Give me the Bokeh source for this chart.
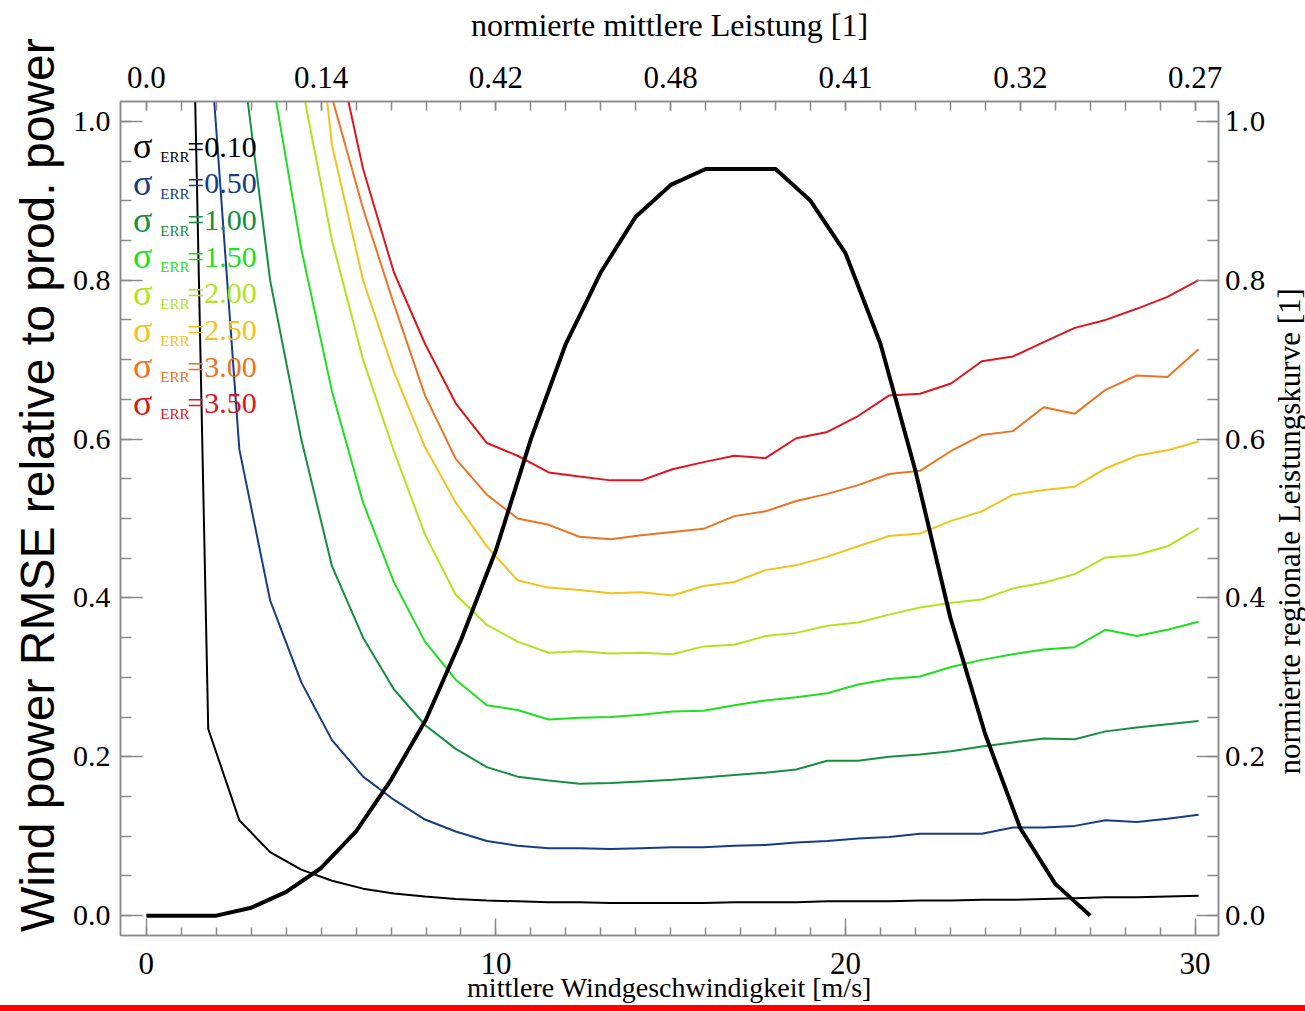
import math
from bokeh.plotting import figure
from bokeh.models import (Range1d, LinearAxis, FixedTicker, Div,
                          ColumnDataSource, PrintfTickFormatter)
from bokeh.layouts import column, row
from bokeh.embed import file_html
from bokeh.resources import INLINE
from bokeh.core.properties import value

NaN = float("nan")

# ---------------- data ----------------
# wind speed grid of the RMSE curves [m/s]
wind_err = [0.00, 0.89, 1.77, 2.66, 3.54, 4.43, 5.31, 6.20, 7.08, 7.97, 8.85,
            9.74, 10.62, 11.51, 12.39, 13.28, 14.16, 15.05, 15.94, 16.82, 17.71,
            18.59, 19.48, 20.36, 21.25, 22.13, 23.02, 23.90, 24.79, 25.67, 26.56,
            27.44, 28.33, 29.21, 30.10]

sigma_labels = ["0.10", "0.50", "1.00", "1.50", "2.00", "2.50", "3.00", "3.50"]
sigma_colors = ["#000000", "#173d86", "#16903e", "#1fe01f", "#b2e41e",
                "#f2c31c", "#ec7424", "#e0161e"]

rmse_010 = [NaN, 2.10, 0.235, 0.120, 0.080, 0.058, 0.044, 0.034, 0.028, 0.024, 0.021,
            0.019, 0.018, 0.017, 0.017, 0.016, 0.016, 0.016, 0.016, 0.017, 0.017,
            0.017, 0.018, 0.018, 0.018, 0.019, 0.019, 0.020, 0.020, 0.021, 0.022,
            0.023, 0.023, 0.024, 0.025]
rmse_050 = [NaN, NaN, 1.13, 0.587, 0.397, 0.294, 0.221, 0.175, 0.146, 0.121, 0.106,
            0.094, 0.088, 0.085, 0.085, 0.084, 0.085, 0.086, 0.086, 0.088, 0.089,
            0.092, 0.094, 0.097, 0.099, 0.103, 0.103, 0.103, 0.111, 0.111, 0.113,
            0.120, 0.118, 0.122, 0.127]
rmse_100 = [NaN, NaN, NaN, 1.11, 0.80, 0.60, 0.44, 0.35, 0.285, 0.24, 0.21,
            0.187, 0.175, 0.170, 0.166, 0.167, 0.169, 0.171, 0.174, 0.177, 0.180,
            0.184, 0.195, 0.195, 0.200, 0.203, 0.207, 0.213, 0.218, 0.223, 0.222,
            0.232, 0.237, 0.241, 0.245]
rmse_150 = [NaN, NaN, NaN, NaN, 1.07, 0.84, 0.66, 0.52, 0.42, 0.345, 0.297,
            0.265, 0.259, 0.247, 0.249, 0.250, 0.253, 0.257, 0.258, 0.265, 0.271,
            0.275, 0.280, 0.291, 0.298, 0.301, 0.313, 0.322, 0.329, 0.335, 0.338,
            0.360, 0.352, 0.360, 0.370]
rmse_200 = [NaN, NaN, NaN, NaN, NaN, 1.05, 0.85, 0.70, 0.585, 0.48, 0.404,
            0.366, 0.345, 0.331, 0.333, 0.330, 0.331, 0.329, 0.339, 0.341, 0.352,
            0.356, 0.365, 0.369, 0.379, 0.388, 0.394, 0.398, 0.412, 0.419, 0.430,
            0.451, 0.454, 0.465, 0.488]
rmse_250 = [NaN, NaN, NaN, NaN, NaN, 1.32, 0.97, 0.80, 0.685, 0.59, 0.52,
            0.465, 0.422, 0.413, 0.410, 0.406, 0.407, 0.403, 0.415, 0.420, 0.435,
            0.441, 0.452, 0.465, 0.478, 0.481, 0.497, 0.509, 0.530, 0.536, 0.540,
            0.563, 0.579, 0.586, 0.597]
rmse_300 = [NaN, NaN, NaN, NaN, NaN, NaN, 1.03, 0.89, 0.77, 0.655, 0.575,
            0.530, 0.500, 0.492, 0.477, 0.474, 0.479, 0.483, 0.487, 0.503, 0.509,
            0.522, 0.531, 0.542, 0.556, 0.560, 0.585, 0.605, 0.610, 0.640, 0.632,
            0.662, 0.680, 0.678, 0.713]
rmse_350 = [NaN, NaN, NaN, NaN, NaN, NaN, 1.12, 0.94, 0.81, 0.72, 0.645,
            0.595, 0.579, 0.558, 0.553, 0.548, 0.548, 0.562, 0.571, 0.579, 0.576,
            0.601, 0.609, 0.629, 0.655, 0.657, 0.670, 0.698, 0.704, 0.722, 0.740,
            0.750, 0.764, 0.779, 0.800]
rmse_series = [rmse_010, rmse_050, rmse_100, rmse_150, rmse_200, rmse_250,
               rmse_300, rmse_350]

# normalised regional power curve
wind_pc = list(range(0, 28))
power_curve = [0.0, 0.0, 0.0, 0.01, 0.03, 0.06, 0.106, 0.171, 0.247, 0.347,
               0.46, 0.60, 0.72, 0.81, 0.88, 0.92, 0.94, 0.94, 0.94, 0.90,
               0.834, 0.72, 0.56, 0.375, 0.228, 0.11, 0.04, 0.0]

# top axis: normalised mean power
top_ticks = [0, 5, 10, 15, 20, 25, 30]
top_labels = ["0.0", "0.14", "0.42", "0.48", "0.41", "0.32", "0.27"]

y_ticks = [0.0, 0.2, 0.4, 0.6, 0.8, 1.0]

right_title = "normierte regionale Leistungskurve [1]"

# ---------------- figure ----------------
GREY = "#8a8a8a"
SERIF = "Liberation Serif"
FIG_H = 1005
MAIN_W = 1268

p = figure(width=MAIN_W, height=FIG_H, output_backend="svg", toolbar_location=None,
           x_range=Range1d(-0.74, 30.67), y_range=Range1d(-0.025, 1.025),
           min_border_left=120, min_border_right=MAIN_W - 1220, min_border_top=101,
           min_border_bottom=69)
p.grid.visible = False
p.outline_line_color = GREY
p.outline_line_width = 1.5
p.background_fill_color = "white"
p.border_fill_color = "white"


def style_axis(ax, font, size, tin, tmin):
    ax.axis_line_color = GREY
    ax.axis_line_width = 1.5
    ax.major_tick_line_color = GREY
    ax.minor_tick_line_color = GREY
    ax.major_tick_line_width = 1.5
    ax.minor_tick_line_width = 1.5
    ax.major_tick_in = tin
    ax.major_tick_out = 0
    ax.minor_tick_in = tmin
    ax.minor_tick_out = 0
    ax.major_label_text_font = font
    ax.major_label_text_font_size = size
    ax.major_label_text_color = "black"
    ax.axis_label_text_font_style = "normal"
    ax.axis_label_text_color = "black"


# bottom axis: mean wind speed
xb = p.xaxis[0]
xb.ticker = FixedTicker(ticks=[0, 10, 20, 30], minor_ticks=list(range(0, 31)))
style_axis(xb, SERIF, "31px", 17, 8)
xb.major_label_standoff = 17
xb.axis_label = "mittlere Windgeschwindigkeit [m/s]"
xb.axis_label_text_font = SERIF
xb.axis_label_text_font_size = "28px"
xb.axis_label_standoff = -5

# left axis: RMSE
yl = p.yaxis[0]
yl.ticker = FixedTicker(ticks=y_ticks, minor_ticks=[round(0.05 * i, 2) for i in range(21)])
yl.formatter = PrintfTickFormatter(format="%.1f")
style_axis(yl, SERIF, "30px", 22, 11)
yl.major_label_standoff = 10
yl.axis_label = "\u00a0" * 5 + "Wind power RMSE relative to prod. power"
yl.axis_label_text_font = "Liberation Sans"
yl.axis_label_text_font_size = "48px"
yl.axis_label_standoff = 6

# right axis: normalised regional power curve (ticks and numbers)
yr = LinearAxis(ticker=FixedTicker(ticks=y_ticks, minor_ticks=[round(0.05 * i, 2) for i in range(21)]),
                formatter=PrintfTickFormatter(format="%.1f"))
style_axis(yr, "DejaVu Serif", "26px", 22, 11)
yr.major_label_standoff = 6
p.add_layout(yr, "right")

# top axis: normalised mean power
xt = LinearAxis(ticker=FixedTicker(ticks=top_ticks, minor_ticks=list(range(0, 31))),
                major_label_overrides={t: l for t, l in zip(top_ticks, top_labels)})
style_axis(xt, SERIF, "31px", 9, 9)
xt.major_label_standoff = 14
xt.axis_label = "normierte mittlere Leistung [1]"
xt.axis_label_text_font = SERIF
xt.axis_label_text_font_size = "32px"
xt.axis_label_standoff = 21
p.add_layout(xt, "above")

# ---------------- curves ----------------
for vals, col in zip(rmse_series, sigma_colors):
    p.line(wind_err, vals, line_color=col, line_width=2)

p.line(wind_pc, power_curve, line_color="black", line_width=4)

# ---------------- legend texts ----------------
n = len(sigma_labels)
row_y = [0.9686 - 0.04616 * i for i in range(n)]
leg = ColumnDataSource(dict(
    y=row_y,
    sig=["σ"] * n,
    err=["ERR"] * n,
    val=["=" + s for s in sigma_labels],
    col=sigma_colors,
))
p.text(x=-0.38, y="y", text="sig", text_color="col", source=leg,
       text_font=value(SERIF), text_font_size="36px", text_baseline="alphabetic")
p.text(x=0.40, y="y", text="err", text_color="col", source=leg,
       text_font=value(SERIF), text_font_size="15px", text_baseline="alphabetic",
       y_offset=11)
p.text(x=1.173, y="y", text="val", text_color="col", source=leg,
       text_font=value(SERIF), text_font_size="30px", text_baseline="alphabetic")

# ---------------- right-hand title strip (text reads upwards) ----------------
strip_w = 1305 - MAIN_W
p2 = figure(width=strip_w, height=FIG_H, output_backend="svg", toolbar_location=None,
            x_range=Range1d(0, strip_w), y_range=Range1d(0, FIG_H),
            x_axis_type=None, y_axis_type=None, min_border=0)
p2.grid.visible = False
p2.outline_line_color = None
p2.background_fill_color = "white"
p2.border_fill_color = "white"
p2.text(x=[strip_w / 2 + 2], y=[FIG_H - 518], text=[right_title], angle=math.pi / 2,
        text_align="center", text_baseline="middle", text_color="black",
        text_font=value(SERIF), text_font_size="31px")

red_bar = Div(text="", width=1305, height=6, margin=(0, 0, 0, 0),
              styles={"background-color": "#ff0000"})

layout = column(row(p, p2), red_bar)
open("out.html", "w").write(file_html(layout, INLINE))
